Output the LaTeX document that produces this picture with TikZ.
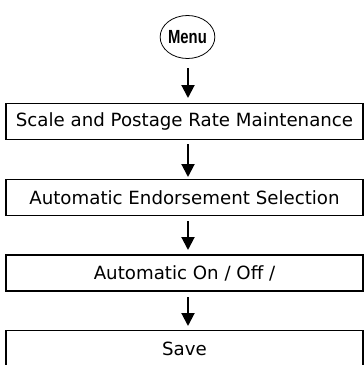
\documentclass[tikz,border=0pt]{standalone}
\usepackage{fontspec}
\setmainfont{DejaVu Sans}
\newfontfamily\menufont{Liberation Sans}
\usetikzlibrary{arrows.meta,shapes.geometric}
\begin{document}
\begin{tikzpicture}[x=1pt,y=-1pt,
  stepbox/.style={draw,line width=1.2pt,minimum width=357pt,minimum height=36pt,inner sep=0pt,font=\fontsize{18.2}{21}\selectfont},
  flow/.style={line width=2pt,-{Triangle[length=13pt,width=13pt]}},
  menunode/.style={draw,ellipse,line width=0.8pt,minimum width=45pt,minimum height=43pt,inner sep=0pt}]
\useasboundingbox (0,0) rectangle (364,365);
\node[menunode] (menu) at (187.5,37) {\menufont\bfseries\fontsize{19}{21}\selectfont\scalebox{0.78}[1]{Menu}};
\node[stepbox] (b1) at (184.5,121.5) {Scale and Postage Rate Maintenance};
\node[stepbox] (b2) at (184.5,197.5) {Automatic Endorsement Selection};
\node[stepbox] (b3) at (184.5,273) {Automatic On / Off /};
\node[stepbox] (b4) at (184.5,348.5) {Save};
\coordinate (a1s) at (188,68);
\coordinate (a1e) at (188,98);
\coordinate (a2s) at (188,144);
\coordinate (a2e) at (188,177);
\coordinate (a3s) at (188,221);
\coordinate (a3e) at (188,250);
\coordinate (a4s) at (188,297);
\coordinate (a4e) at (188,326);
\draw[flow] (a1s) -- (a1e);
\draw[flow] (a2s) -- (a2e);
\draw[flow] (a3s) -- (a3e);
\draw[flow] (a4s) -- (a4e);
\end{tikzpicture}
\end{document}
